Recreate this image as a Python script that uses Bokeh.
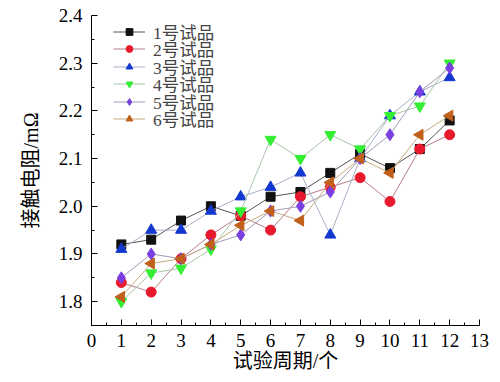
from bokeh.plotting import figure
from bokeh.models import Legend, LegendItem, FixedTicker, Range1d, PrintfTickFormatter
from bokeh.embed import file_html
from bokeh.resources import INLINE

cycles = [1, 2, 3, 4, 5, 6, 7, 8, 9, 10, 11, 12]
s1 = [1.92, 1.93, 1.97, 2.00, 1.98, 2.02, 2.03, 2.07, 2.11, 2.08, 2.12, 2.18]
s2 = [1.84, 1.82, 1.89, 1.94, 1.98, 1.95, 2.02, 2.04, 2.06, 2.01, 2.12, 2.15]
s3 = [1.91, 1.95, 1.95, 1.99, 2.02, 2.04, 2.07, 1.94, 2.10, 2.19, 2.24, 2.27]
s4 = [1.80, 1.86, 1.87, 1.91, 1.99, 2.14, 2.10, 2.15, 2.12, 2.19, 2.21, 2.30]
s5 = [1.85, 1.90, 1.89, 1.92, 1.94, 1.99, 2.00, 2.03, 2.10, 2.15, 2.24, 2.29]
s6 = [1.81, 1.88, 1.89, 1.92, 1.96, 1.99, 1.97, 2.05, 2.10, 2.07, 2.15, 2.19]
series_names = ["1号试品", "2号试品", "3号试品", "4号试品", "5号试品", "6号试品"]
x_ticks = list(range(0, 14))
y_ticks = [1.8, 1.9, 2.0, 2.1, 2.2, 2.3, 2.4]

FONT = "'Liberation Serif', 'Noto Sans CJK SC', serif"

p = figure(width=492, height=374, output_backend="svg", toolbar_location=None,
           x_range=Range1d(0, 13), y_range=Range1d(1.75, 2.4),
           min_border_left=91, min_border_right=13, min_border_top=15, min_border_bottom=49)
p.outline_line_color = None
p.xgrid.visible = False
p.ygrid.visible = False
p.background_fill_color = "white"

styles = [
    ("square", "#111111", "#555555", 9),
    ("circle", "#e8192c", "#b87c86", 10),
    ("triangle", "#1238d0", "#a8b0c8", 11),
    ("inverted_triangle", "#33ee33", "#a8c4a8", 11),
    ("diamond", "#7a3fe0", "#a09ab8", 12),
    ("triangle", "#c0601a", "#c8aa80", 11),
]
data = [s1, s2, s3, s4, s5, s6]
legend_y = [281, 264, 246, 229, 211, 194]
for i, (ys, name, (mk, col, lcol, sz)) in enumerate(zip(data, series_names, styles)):
    r1 = p.line(cycles, ys, line_color=lcol, line_width=1)
    kw = {}
    if i == 5:
        kw["angle"] = 1.5708
    r2 = p.scatter(cycles, ys, marker=mk, size=sz, fill_color=col, line_color=col, **kw)
    lg = Legend(items=[LegendItem(label=name, renderers=[r1, r2])], location=(22, legend_y[i]))
    lg.background_fill_alpha = 0
    lg.border_line_color = None
    lg.label_text_font = FONT
    lg.label_text_font_size = "17.5px"
    lg.label_text_line_height = 1.0
    lg.label_height = 17
    lg.glyph_height = 17
    lg.glyph_width = 32
    lg.padding = 0
    lg.margin = 0
    lg.label_standoff = 8
    p.add_layout(lg, "center")

for ax in (p.xaxis[0], p.yaxis[0]):
    ax.axis_line_color = "black"
    ax.axis_line_width = 1
    ax.major_tick_in = 6
    ax.major_tick_out = 0
    ax.minor_tick_in = 3
    ax.minor_tick_out = 0
    ax.major_tick_line_color = "black"
    ax.minor_tick_line_color = "black"
    ax.major_label_text_font = FONT
    ax.major_label_text_font_size = "19px"
    ax.major_label_text_color = "black"
    ax.axis_label_text_font = FONT
    ax.axis_label_text_font_size = "20px"
    ax.axis_label_text_font_style = "normal"
    ax.axis_label_text_color = "black"

p.xaxis.ticker = FixedTicker(ticks=x_ticks, minor_ticks=[x + 0.5 for x in range(0, 13)])
p.yaxis.ticker = FixedTicker(ticks=y_ticks, minor_ticks=[1.75 + 0.1 * k for k in range(7)])
p.yaxis.formatter = PrintfTickFormatter(format="%.1f")
p.xaxis.axis_label = "试验周期/个"
p.yaxis.axis_label = "接触电阻/mΩ"
p.xaxis.major_label_standoff = 8
p.yaxis.major_label_standoff = 9
p.xaxis.axis_label_standoff = 0
p.yaxis.axis_label_standoff = 14

open("out.html", "w").write(file_html(p, INLINE))
